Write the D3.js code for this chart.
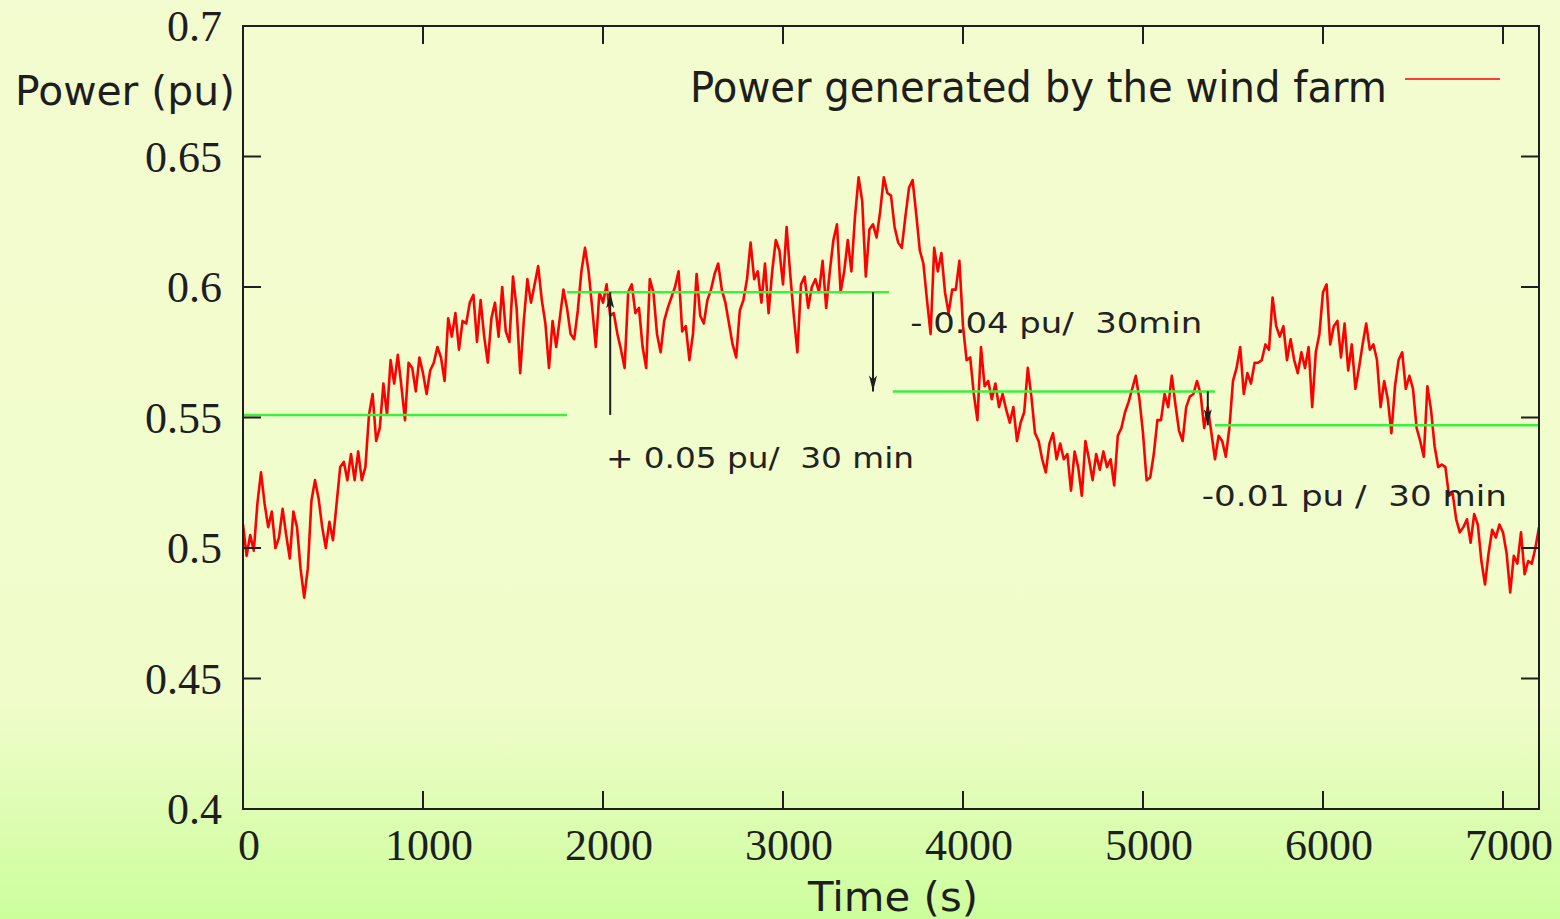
<!DOCTYPE html>
<html><head><meta charset="utf-8">
<script src="https://cdn.jsdelivr.net/npm/d3@7"></script>
<style>html,body{margin:0;padding:0;background:#f2fbcf;}svg{display:block;}</style>
</head><body>
<script>
// ---- data ----
const timeStep = 20; // s between samples
const power = [
0.509,0.497,0.505,0.499,0.517,0.529,0.517,0.508,0.514,0.500,
0.504,0.515,0.505,0.496,0.514,0.508,0.492,0.481,0.492,0.518,
0.526,0.519,0.508,0.500,0.510,0.503,0.517,0.531,0.533,0.526,
0.536,0.526,0.537,0.526,0.531,0.551,0.559,0.541,0.546,0.563,
0.551,0.572,0.563,0.574,0.562,0.549,0.571,0.569,0.560,0.573,
0.567,0.559,0.568,0.571,0.577,0.573,0.564,0.588,0.581,0.590,
0.576,0.587,0.586,0.594,0.597,0.579,0.595,0.581,0.571,0.588,
0.594,0.581,0.600,0.583,0.579,0.604,0.592,0.567,0.587,0.603,
0.594,0.601,0.608,0.595,0.586,0.569,0.587,0.577,0.588,0.599,
0.592,0.582,0.580,0.591,0.606,0.615,0.606,0.592,0.577,0.598,
0.594,0.601,0.589,0.590,0.582,0.576,0.569,0.598,0.601,0.590,
0.592,0.577,0.569,0.603,0.598,0.582,0.575,0.587,0.592,0.596,
0.600,0.606,0.583,0.585,0.572,0.582,0.605,0.589,0.586,0.595,
0.599,0.605,0.609,0.599,0.594,0.586,0.578,0.573,0.591,0.595,
0.603,0.617,0.603,0.606,0.594,0.609,0.590,0.606,0.618,0.614,
0.601,0.623,0.605,0.589,0.575,0.601,0.604,0.592,0.600,0.603,
0.598,0.610,0.592,0.606,0.618,0.624,0.598,0.606,0.618,0.606,
0.627,0.642,0.633,0.604,0.622,0.624,0.619,0.629,0.642,0.636,
0.635,0.623,0.617,0.615,0.627,0.638,0.641,0.628,0.614,0.609,
0.595,0.582,0.615,0.606,0.613,0.598,0.590,0.599,0.599,0.610,
0.585,0.572,0.573,0.559,0.549,0.577,0.562,0.564,0.557,0.563,
0.554,0.559,0.553,0.548,0.554,0.541,0.548,0.552,0.569,0.558,
0.544,0.541,0.534,0.529,0.540,0.544,0.534,0.540,0.534,0.536,
0.522,0.537,0.531,0.520,0.541,0.534,0.526,0.536,0.530,0.537,
0.531,0.534,0.524,0.543,0.546,0.552,0.556,0.561,0.566,0.557,
0.544,0.526,0.527,0.536,0.549,0.549,0.559,0.554,0.566,0.555,
0.545,0.541,0.554,0.558,0.559,0.564,0.559,0.546,0.554,0.544,
0.534,0.543,0.541,0.535,0.546,0.564,0.569,0.577,0.559,0.567,
0.563,0.571,0.571,0.572,0.578,0.576,0.596,0.585,0.581,0.585,
0.572,0.580,0.572,0.567,0.575,0.569,0.577,0.554,0.575,0.582,
0.598,0.601,0.578,0.585,0.587,0.573,0.586,0.568,0.578,0.561,
0.569,0.578,0.586,0.576,0.578,0.572,0.554,0.564,0.557,0.544,
0.562,0.572,0.575,0.561,0.566,0.561,0.546,0.541,0.535,0.562,
0.553,0.539,0.531,0.532,0.531,0.520,0.521,0.511,0.506,0.508,
0.511,0.502,0.513,0.509,0.495,0.486,0.498,0.507,0.504,0.509,
0.506,0.498,0.483,0.497,0.494,0.506,0.490,0.495,0.494,0.500,
0.508
];
// 30-minute average levels (green)
const avgStart = [0, 1800, 3610, 5400];
const avgEnd   = [1800, 3590, 5400, 7200];
const avgLevel = [0.551, 0.598, 0.560, 0.547];
// ramp arrows
const arrowTime = [2040, 3500, 5360];
const arrowFrom = [0.551, 0.598, 0.560];
const arrowTo   = [0.598, 0.560, 0.547];
const arrowLabels = ["+ 0.05 pu/  30 min", "- 0.04 pu/  30min", "-0.01 pu /  30 min"];
const arrowLabelTime = [2000, 3690, 5310];
const arrowLabelValue = [0.5307, 0.5823, 0.5162];
// axes
const xTicks = [0,1000,2000,3000,4000,5000,6000,7000];
const yTicks = [0.4,0.45,0.5,0.55,0.6,0.65,0.7];
const yTickLabels = ["0.4","0.45","0.5","0.55","0.6","0.65","0.7"];
const yTitle = "Power (pu)";
const xTitle = "Time (s)";
const legendLabel = "Power generated by the wind farm";

// ---- drawing ----
const W = 1560, H = 919;
const L = 243, R = 1539, T = 26, B = 809;
const svg = d3.select("body").append("svg").attr("width", W).attr("height", H);
const defs = svg.append("defs");
const grad = defs.append("linearGradient").attr("id","bg").attr("x1",0).attr("y1",0).attr("x2",0).attr("y2",1);
grad.append("stop").attr("offset","0").attr("stop-color","#f3fcd0");
grad.append("stop").attr("offset","0.76").attr("stop-color","#f1fccb");
grad.append("stop").attr("offset","1").attr("stop-color","#ccfe9c");
svg.append("rect").attr("width",W).attr("height",H).attr("fill","url(#bg)");
defs.append("clipPath").attr("id","plot").append("rect").attr("x",L).attr("y",T).attr("width",R-L).attr("height",B-T);

const x = d3.scaleLinear().domain([0,7200]).range([L,R]);
const y = d3.scaleLinear().domain([0.4,0.7]).range([B,T]);
const ink = "#1e1e1e";

// series
const pts = power.map((v,i)=>[i*timeStep, v]);
svg.append("path").datum(pts).attr("clip-path","url(#plot)")
  .attr("fill","none").attr("stroke","#ff0000").attr("stroke-width",2.6).attr("stroke-linejoin","round")
  .attr("d", d3.line().x(d=>x(d[0])).y(d=>y(d[1])));

// averages
svg.append("g").selectAll("line").data(avgLevel).join("line")
  .attr("x1",(d,i)=>x(avgStart[i])).attr("x2",(d,i)=>x(avgEnd[i]))
  .attr("y1",d=>y(d)).attr("y2",d=>y(d))
  .attr("stroke","#3ef03e").attr("stroke-width",2.5);

// arrows
defs.append("marker").attr("id","ah").attr("viewBox","0 0 16 8").attr("refX",16).attr("refY",4)
  .attr("markerWidth",16).attr("markerHeight",8).attr("markerUnits","userSpaceOnUse").attr("orient","auto")
  .append("path").attr("d","M0,0 L16,4 L0,8 L4,4 Z").attr("fill",ink);
svg.append("g").selectAll("line").data(arrowTime).join("line")
  .attr("x1",d=>x(d)).attr("x2",d=>x(d))
  .attr("y1",(d,i)=>y(arrowFrom[i])).attr("y2",(d,i)=>y(arrowTo[i]))
  .attr("stroke",ink).attr("stroke-width",2).attr("marker-end","url(#ah)");
svg.append("g").selectAll("text").data(arrowLabels).join("text")
  .attr("x",(d,i)=>x(arrowLabelTime[i])+3).attr("y",(d,i)=>y(arrowLabelValue[i]))
  .attr("font-family","DejaVu Sans, sans-serif").attr("font-size",29).attr("fill","#222")
  .style("white-space","pre").attr("xml:space","preserve")
  .attr("textLength",(d,i)=>[308,292,305][i]).attr("lengthAdjust","spacingAndGlyphs")
  .text(d=>d);

// frame
svg.append("rect").attr("x",L).attr("y",T).attr("width",R-L).attr("height",B-T)
  .attr("fill","none").attr("stroke",ink).attr("stroke-width",2);
const tl = 18;
const tg = svg.append("g").attr("stroke",ink).attr("stroke-width",2);
xTicks.forEach(t=>{
  tg.append("line").attr("x1",x(t)).attr("x2",x(t)).attr("y1",B).attr("y2",B-tl);
  tg.append("line").attr("x1",x(t)).attr("x2",x(t)).attr("y1",T).attr("y2",T+tl);
});
yTicks.forEach(t=>{
  tg.append("line").attr("x1",L).attr("x2",L+tl).attr("y1",y(t)).attr("y2",y(t));
  tg.append("line").attr("x1",R).attr("x2",R-tl).attr("y1",y(t)).attr("y2",y(t));
});
// tick labels
svg.append("g").selectAll("text").data(xTicks).join("text")
  .attr("x",d=>x(d)+6).attr("y",B+51).attr("text-anchor","middle")
  .attr("font-family","Liberation Serif, Times New Roman, serif").attr("font-size",44).attr("fill",ink)
  .text(d=>d);
svg.append("g").selectAll("text").data(yTicks).join("text")
  .attr("x",L-21).attr("y",d=>y(d)+15).attr("text-anchor","end")
  .attr("font-family","Liberation Serif, Times New Roman, serif").attr("font-size",44).attr("fill",ink)
  .text((d,i)=>yTickLabels[i]);
// titles
svg.append("text").attr("x",15).attr("y",105)
  .attr("font-family","DejaVu Sans, sans-serif").attr("font-size",40).attr("fill",ink)
  .attr("textLength",220).attr("lengthAdjust","spacingAndGlyphs").text(yTitle);
svg.append("text").attr("x",808).attr("y",911)
  .attr("font-family","DejaVu Sans, sans-serif").attr("font-size",41).attr("fill",ink)
  .attr("textLength",170).attr("lengthAdjust","spacingAndGlyphs").text(xTitle);
// legend
svg.append("text").attr("x",690).attr("y",102)
  .attr("font-family","DejaVu Sans, sans-serif").attr("font-size",42).attr("fill",ink)
  .attr("textLength",697).attr("lengthAdjust","spacingAndGlyphs").text(legendLabel);
svg.append("line").attr("x1",1405).attr("x2",1500).attr("y1",79).attr("y2",79)
  .attr("stroke","#ff3b3b").attr("stroke-width",2);
</script>
</body></html>
